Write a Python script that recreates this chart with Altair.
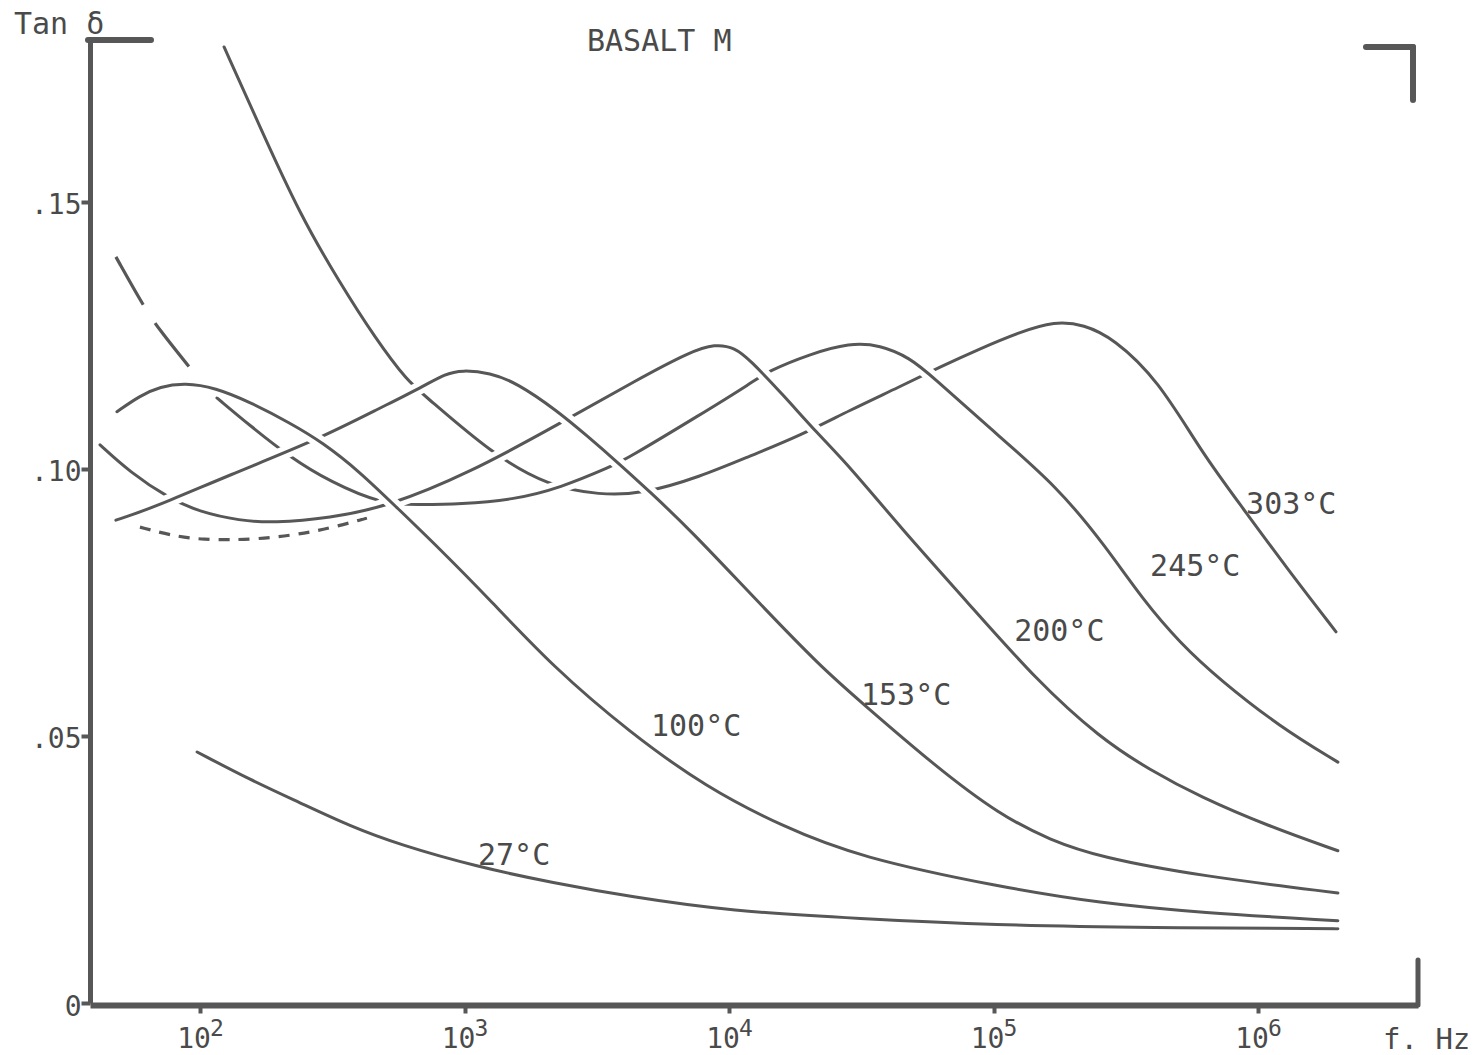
import altair as alt
import pandas as pd

FONT = "DejaVu Sans Mono"
INK = "#575757"
TEXT = "#4a4a4a"

# ---------------- data ----------------
# x values are log10(f / Hz), y values are tan(delta)
t27_logf = [1.989, 2.189, 2.378, 2.567, 2.756, 3.047, 3.335, 3.626, 4.004, 4.495, 4.998, 5.592, 6.302]
t27_tan = [0.0470, 0.0418, 0.0375, 0.0331, 0.0296, 0.0255, 0.0225, 0.0199, 0.0172, 0.0158, 0.0146, 0.0141, 0.0139]

t100_logf = [1.686, 1.773, 1.849, 1.943, 2.057, 2.189, 2.340, 2.465, 2.605, 2.737, 2.907, 3.096, 3.335,
             3.626, 3.913, 4.204, 4.491, 5.025, 5.403, 5.781, 6.302]
t100_tan = [0.1107, 0.1137, 0.1154, 0.1161, 0.1152, 0.1125, 0.1086, 0.1049, 0.0994, 0.0931, 0.0850, 0.0755,
            0.0629, 0.0506, 0.0404, 0.0330, 0.0273, 0.0217, 0.0187, 0.0169, 0.0154]

t153_logf = [1.682, 1.822, 2.113, 2.442, 2.681, 2.843, 2.926, 2.991, 3.096, 3.198, 3.350, 3.463, 3.577,
             3.701, 3.853, 4.102, 4.348, 4.491, 4.783, 5.025, 5.214, 5.403, 5.781, 6.302]
t153_tan = [0.0904, 0.0927, 0.0989, 0.1054, 0.1114, 0.1154, 0.1178, 0.1185, 0.1180, 0.1161, 0.1109, 0.1062,
            0.1013, 0.0957, 0.0886, 0.0755, 0.0629, 0.0567, 0.0442, 0.0352, 0.0305, 0.0273, 0.0238, 0.0206]

t200_logf = [1.622, 1.735, 1.879, 2.000, 2.151, 2.276, 2.491, 2.707, 3.021, 3.350, 3.664, 3.853, 3.947,
             4.023, 4.079, 4.204, 4.333, 4.457, 4.647, 4.904, 5.161, 5.403, 5.592, 5.781, 6.045, 6.302]
t200_tan = [0.1045, 0.0994, 0.0946, 0.0919, 0.0903, 0.0899, 0.0908, 0.0929, 0.0993, 0.1082, 0.1170, 0.1219,
            0.1234, 0.1227, 0.1204, 0.1139, 0.1067, 0.1004, 0.0891, 0.0749, 0.0605, 0.0496, 0.0436, 0.0386,
            0.0330, 0.0285]

t245_low_logf = [1.682, 1.784, 1.837, 1.977]
t245_low_tan = [0.1397, 0.1307, 0.1266, 0.1180]

t245_logf = [2.064, 2.189, 2.340, 2.491, 2.692, 2.832, 2.983, 3.183, 3.361, 3.561, 3.607, 3.890, 4.091,
             4.144, 4.306, 4.457, 4.571, 4.684, 4.771, 4.979, 5.244, 5.425, 5.565, 5.705, 5.856, 6.083, 6.302]
t245_tan = [0.1133, 0.1081, 0.1022, 0.0976, 0.0933, 0.0933, 0.0934, 0.0942, 0.0964, 0.1006, 0.1017, 0.1101,
            0.1163, 0.1182, 0.1215, 0.1236, 0.1232, 0.1208, 0.1172, 0.1079, 0.0966, 0.0854, 0.0755, 0.0674,
            0.0605, 0.0517, 0.0451]

t303_logf = [2.091, 2.227, 2.378, 2.529, 2.662, 2.786, 2.851, 3.104, 3.316, 3.512, 3.675, 3.890, 4.079, 4.268,
             4.457, 4.647, 4.798, 4.949, 5.093, 5.233, 5.342, 5.452, 5.622, 5.788, 5.939, 6.106, 6.295]
t303_tan = [0.1790, 0.1640, 0.1476, 0.1348, 0.1245, 0.1163, 0.1137, 0.1028, 0.0968, 0.0951, 0.0953, 0.0985,
            0.1024, 0.1062, 0.1110, 0.1154, 0.1191, 0.1225, 0.1255, 0.1277, 0.1270, 0.1245, 0.1167, 0.1030,
            0.0929, 0.0816, 0.0695]

dashed_min_logf = [1.773, 1.887, 2.000, 2.216, 2.442, 2.631]
dashed_min_tan = [0.0891, 0.0876, 0.0867, 0.0867, 0.0882, 0.0908]

label_names = ["303°C", "245°C", "200°C", "153°C", "100°C", "27°C"]
label_logf = [5.955, 5.592, 5.078, 4.499, 3.705, 3.051]
label_tan = [0.0933, 0.0816, 0.0695, 0.0575, 0.0517, 0.0275]

x_tick_values = [1e2, 1e3, 1e4, 1e5, 1e6]
x_tick_base = "10"
x_tick_exponents = ["2", "3", "4", "5", "6"]
y_tick_values = [0.0, 0.05, 0.10, 0.15]
y_tick_labels = ["0", ".05", ".10", ".15"]

x_domain_logf = [1.5841, 6.6049]
y_domain = [0.0, 0.1803]


# ---------------- helpers ----------------
def label_expr(values, labels):
    expr = f"'{labels[-1]}'"
    for i in range(len(values) - 2, -1, -1):
        mid = (values[i] + values[i + 1]) / 2
        expr = f"(datum.value < {mid} ? '{labels[i]}' : {expr})"
    return expr


def frame(logf, tan):
    return pd.DataFrame({"f": [10 ** v for v in logf], "tan": tan, "i": list(range(len(tan)))})


XS = alt.Scale(type="log", domain=[10 ** x_domain_logf[0], 10 ** x_domain_logf[1]], nice=False)
X = alt.X(
    "f:Q", scale=XS,
    axis=alt.Axis(
        values=x_tick_values, labels=False, title=None, grid=False,
        domainColor=INK, domainWidth=6, tickColor=INK, tickWidth=4, tickSize=8, offset=2,
    ),
)
Y = alt.Y(
    "tan:Q",
    scale=alt.Scale(domain=y_domain, nice=False, zero=False),
    axis=alt.Axis(
        values=y_tick_values, labelExpr=label_expr(y_tick_values, y_tick_labels), title=None, grid=False,
        domainColor=INK, domainWidth=5, tickColor=INK, tickWidth=4, tickSize=9,
        labelFont=FONT, labelFontSize=28, labelColor=TEXT, labelPadding=0, labelOffset=4,
    ),
)

# bottom layer first; later (cooler) curves cut gaps into earlier ones where they cross
series = [
    ("dashed", dashed_min_logf, dashed_min_tan, [11, 9]),
    ("303", t303_logf, t303_tan, None),
    ("245 low", t245_low_logf, t245_low_tan, [55, 22]),
    ("245", t245_logf, t245_tan, None),
    ("200", t200_logf, t200_tan, None),
    ("153", t153_logf, t153_tan, None),
    ("27", t27_logf, t27_tan, None),
    ("100", t100_logf, t100_tan, None),
]

layers = []
for name, lf, tn, dash in series:
    df = frame(lf, tn)
    enc = dict(x=X, y=Y, order="i:Q")
    if dash is None:
        layers.append(
            alt.Chart(df).mark_line(color="#ffffff", strokeWidth=13, strokeCap="butt", interpolate="basis")
            .encode(**enc)
        )
        layers.append(
            alt.Chart(df).mark_line(color=INK, strokeWidth=3, strokeCap="round", interpolate="basis")
            .encode(**enc)
        )
    else:
        layers.append(
            alt.Chart(df).mark_line(color=INK, strokeWidth=3.2, strokeCap="butt", strokeDash=dash,
                                    interpolate="basis").encode(**enc)
        )

labels_df = pd.DataFrame({"f": [10 ** v for v in label_logf], "tan": label_tan, "text": label_names})
layers.append(
    alt.Chart(labels_df).mark_text(align="left", baseline="middle", font=FONT, fontSize=30, color=TEXT)
    .encode(x=X, y=Y, text="text:N")
)

ticks_df = pd.DataFrame({"f": x_tick_values, "base": [x_tick_base] * len(x_tick_values),
                         "exp": x_tick_exponents})
layers.append(
    alt.Chart(ticks_df).mark_text(align="center", baseline="middle", font=FONT, fontSize=28, color=TEXT, dx=-6)
    .encode(x=X, y=alt.value(1000), text="base:N")
)
layers.append(
    alt.Chart(ticks_df).mark_text(align="center", baseline="middle", font=FONT, fontSize=23, color=TEXT, dx=17)
    .encode(x=X, y=alt.value(989), text="exp:N")
)

one = pd.DataFrame({"a": [0]})


def free_text(txt, px, py, size):
    return alt.Chart(one).mark_text(align="left", baseline="middle", font=FONT, fontSize=size, color=TEXT,
                                    text=txt).encode(x=alt.value(px), y=alt.value(py))


def rule(x1, x2, y1, y2, w):
    return alt.Chart(one).mark_rule(color=INK, strokeWidth=w, strokeCap="round").encode(
        x=alt.value(x1), x2=alt.value(x2), y=alt.value(y1), y2=alt.value(y2))


layers += [
    free_text("BASALT M", 497, 2, 30),
    free_text("Tan δ", -76, -15, 30),
    free_text("f. Hz", 1293, 1000, 29),
    rule(-2, 61, 0, 0, 6),
    rule(1276, 1323, 7, 7, 6),
    rule(1323, 1323, 7, 60, 6),
    rule(1328, 1328, 920, 965, 5),
]

chart = (
    alt.layer(*layers)
    .properties(
        width=1328, height=963,
        padding={"left": 90, "top": 40, "right": 59, "bottom": 52},
        autosize=alt.AutoSizeParams(type="none"),
        background="white",
    )
    .configure_view(stroke=None)
)

chart.save("out.html", embed_options={"renderer": "svg", "actions": False})
